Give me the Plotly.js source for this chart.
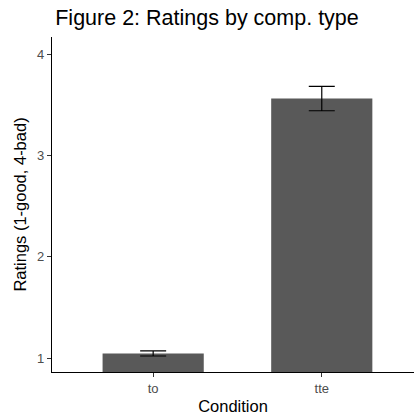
<!DOCTYPE html>
<html>
<head>
<meta charset="utf-8">
<script src="https://cdn.plot.ly/plotly-3.0.1.min.js"></script>
<style>html,body{margin:0;padding:0;background:#fff;}#chart{width:414px;height:417px;}</style>
</head>
<body>
<div id="chart"></div>
<script>
const categories = ["to", "tte"];
const ratings = [1.045, 3.56];
const errors = [0.025, 0.12];
const yTicks = [1, 2, 3, 4];

const trace = {
  type: "bar",
  x: categories,
  y: ratings,
  width: 0.6,
  marker: {color: "#595959", line: {width: 0}},
  error_y: {type: "data", array: errors, visible: true, color: "#000000", thickness: 1.2, width: 13}
};

const layout = {
  width: 414, height: 417,
  margin: {l: 52, r: 0, t: 37, b: 45},
  paper_bgcolor: "#ffffff", plot_bgcolor: "#ffffff",
  font: {family: "Arial, Liberation Sans, sans-serif", color: "#000"},
  title: {text: "Figure 2: Ratings by comp. type", x: 0.5, xanchor: "center", y: 0.957, yanchor: "middle", font: {size: 21.5, color: "#000"}},
  bargap: 0.4,
  xaxis: {
    range: [-0.6, 1.547], showgrid: false, zeroline: false,
    showline: true, linecolor: "#000", linewidth: 1.2,
    ticks: "outside", ticklen: 4, tickcolor: "#333", tickwidth: 1,
    tickfont: {size: 13, color: "#4d4d4d"},
    title: {text: "Condition", font: {size: 16.5, color: "#000"}, standoff: 5}
  },
  yaxis: {
    range: [0.862, 4.168], showgrid: false, zeroline: false,
    showline: true, linecolor: "#000", linewidth: 1.2,
    tickvals: yTicks, ticktext: yTicks.map(String),
    ticks: "outside", ticklen: 4, tickcolor: "#333", tickwidth: 1,
    tickfont: {size: 13, color: "#4d4d4d"},
    title: {text: "Ratings (1-good, 4-bad)", font: {size: 16.5, color: "#000"}, standoff: 6}
  },
  showlegend: false
};

Plotly.newPlot("chart", [trace], layout, {staticPlot: true, displayModeBar: false});
</script>
</body>
</html>
